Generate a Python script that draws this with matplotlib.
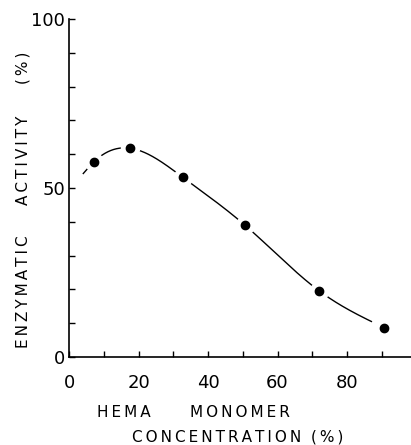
import numpy as np
import matplotlib
matplotlib.use("Agg")
import matplotlib.pyplot as plt

# data
hema_conc = [7.1, 17.4, 32.7, 50.5, 71.9, 90.6]
activity = [57.7, 61.8, 53.2, 39.1, 19.6, 8.7]
# where the hand-drawn fit curve starts and ends
curve_start = (4.1, 54.3)
curve_end_x = 87.0
x_ticks = [0, 20, 40, 60, 80]
y_ticks = [0, 50, 100]


def natural_spline(x, y, xe):
    x = np.asarray(x, float)
    y = np.asarray(y, float)
    n = len(x)
    h = np.diff(x)
    A = np.zeros((n, n))
    b = np.zeros(n)
    A[0, 0] = A[-1, -1] = 1
    for i in range(1, n - 1):
        A[i, i - 1] = h[i - 1]
        A[i, i] = 2 * (h[i - 1] + h[i])
        A[i, i + 1] = h[i]
        b[i] = 3 * ((y[i + 1] - y[i]) / h[i] - (y[i] - y[i - 1]) / h[i - 1])
    c = np.linalg.solve(A, b)
    bb = (y[1:] - y[:-1]) / h - h * (2 * c[:-1] + c[1:]) / 3
    d = (c[1:] - c[:-1]) / (3 * h)
    idx = np.clip(np.searchsorted(x, xe) - 1, 0, n - 2)
    t = xe - x[idx]
    return y[idx] + bb[idx] * t + c[idx] * t ** 2 + d[idx] * t ** 3


TS = "\u2009"


def spaced(s):
    return TS.join(s)


fig = plt.figure(figsize=(4.11, 4.45), dpi=100)
ax = fig.add_axes([0.168, 0.198, 0.832, 0.759])

kx = [curve_start[0]] + hema_conc
ky = [curve_start[1]] + activity
xc = np.linspace(curve_start[0], curve_end_x, 400)
ax.plot(xc, natural_spline(kx, ky, xc), color="black", lw=1.0, zorder=2)
# white halos make the gaps around the markers
ax.plot(hema_conc, activity, "o", ms=13, color="white", mec="white", zorder=3)
ax.plot(hema_conc, activity, "o", ms=6, color="black", zorder=4)

ax.set_xlim(0, 98.4)
ax.set_ylim(0, 100)
ax.spines["top"].set_visible(False)
ax.spines["right"].set_visible(False)
for s in ("left", "bottom"):
    ax.spines[s].set_linewidth(1.2)

ax.set_xticks(np.arange(0, 100, 10))
ax.set_xticklabels([str(v) if v in x_ticks else "" for v in np.arange(0, 100, 10)])
ax.set_yticks(np.arange(0, 101, 10))
ax.set_yticklabels([str(v) if v in y_ticks else "" for v in np.arange(0, 101, 10)])
ax.tick_params(axis="both", direction="in", length=4, width=1.0, labelsize=13)
ax.tick_params(axis="x", pad=12)
ax.tick_params(axis="y", pad=3)

fig.text(0.056, 0.345, spaced("ENZYMATIC"), rotation=90, ha="center", va="center", fontsize=11)
fig.text(0.056, 0.64, spaced("ACTIVITY"), rotation=90, ha="center", va="center", fontsize=11)
fig.text(0.056, 0.847, spaced("(%)"), rotation=90, ha="center", va="center", fontsize=11)
fig.text(0.236, 0.074, spaced("HEMA"), ha="left", va="center", fontsize=11)
fig.text(0.462, 0.074, spaced("MONOMER"), ha="left", va="center", fontsize=11)
fig.text(0.321, 0.018, spaced("CONCENTRATION") + "  " + spaced("(%)"), ha="left",
         va="center", fontsize=11)

fig.savefig("out.png", dpi=100)
